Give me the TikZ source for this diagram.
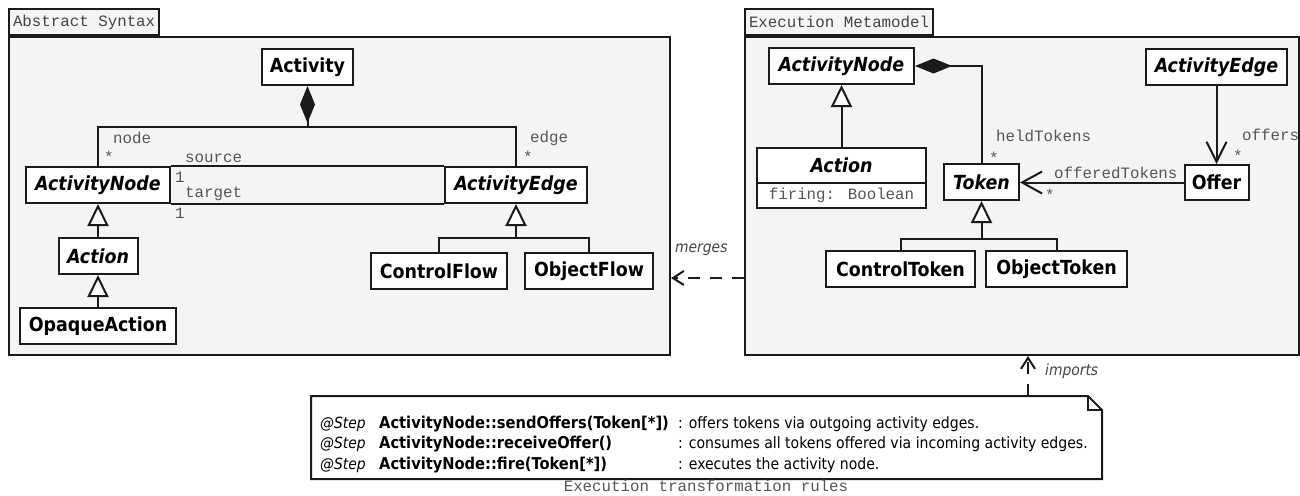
\documentclass[tikz,border=0pt]{standalone}
\usepackage{fontspec}
\usetikzlibrary{arrows.meta}
\newfontfamily\dvs{DejaVu Sans Condensed}
\newfontfamily\lmono{Liberation Mono}
\definecolor{pkgfill}{HTML}{F4F4F4}
\definecolor{lblgray}{HTML}{555555}
\definecolor{tabgray}{HTML}{444444}
\definecolor{linec}{HTML}{1A1A1A}
\begin{document}
\begin{tikzpicture}[x=1pt,y=-1pt,
  pkg/.style={draw=linec, line width=2pt, fill=pkgfill, inner sep=0pt, anchor=north west},
  tabbox/.style={draw=linec, line width=2pt, fill=pkgfill, inner xsep=4pt, inner ysep=0pt, minimum height=26pt, anchor=south west, font=\lmono\fontsize{15.8}{16}\selectfont, text=tabgray},
  cls/.style={draw=linec, line width=2pt, fill=white, inner sep=0pt, minimum height=36pt, font=\dvs\bfseries\fontsize{19.4}{20}\selectfont},
  acls/.style={cls, font=\dvs\bfseries\itshape\fontsize{19.4}{20}\selectfont},
  attrbox/.style={draw=linec, line width=2pt, fill=white, inner sep=0pt, minimum height=25pt, font=\lmono\fontsize{15.8}{16}\selectfont, text=lblgray},
  role/.style={anchor=base west, inner sep=0pt, font=\lmono\fontsize{15.8}{16}\selectfont, text=lblgray},
  conn/.style={draw=linec, line width=2pt},
  gen/.style={conn, -{Triangle[fill=white, length=22pt, width=21pt]}},
  comp/.style={conn, {Diamond[length=37pt, width=15pt]}-},
  nav/.style={conn, -{Straight Barb[length=20pt, width=20pt]}},
  dep/.style={conn, dash pattern=on 12pt off 10pt, -{Straight Barb[length=11pt, width=14pt]}},
  deplbl/.style={anchor=base west, inner sep=0pt, font=\dvs\itshape\fontsize{15.4}{16}\selectfont, text=tabgray},
  stepl/.style={anchor=base west, inner sep=0pt, font=\dvs\itshape\fontsize{15.4}{16}\selectfont},
  opl/.style={anchor=base west, inner sep=0pt, font=\dvs\bfseries\fontsize{16.3}{16}\selectfont},
  descl/.style={anchor=base west, inner sep=0pt, font=\dvs\fontsize{15.6}{16}\selectfont}
]
\useasboundingbox (0,0) rectangle (1300,495);

% packages
\node[pkg, minimum width=661pt, minimum height=318pt] (pkgL) at (8,36) {};
\node[tabbox] (tabL) at (8,36) {Abstract Syntax};
\node[pkg, minimum width=554pt, minimum height=318pt] (pkgR) at (744,36) {};
\node[tabbox] (tabR) at (744,36) {Execution Metamodel};

% left classes
\node[cls, minimum width=91pt] (act) at (307.5,67) {Activity};
\node[acls, minimum width=144pt] (an) at (98,185) {ActivityNode};
\node[acls, minimum width=142pt] (ae) at (516,185) {ActivityEdge};
\node[acls, minimum width=79pt] (actL) at (98,256) {Action};
\node[cls, minimum width=156pt] (opq) at (98,326) {OpaqueAction};
\node[cls, minimum width=136pt] (cf) at (439,271) {ControlFlow};
\node[cls, minimum width=128pt] (of) at (589,271) {ObjectFlow};

% right classes
\node[acls, minimum width=145pt] (anR) at (841.5,66) {ActivityNode};
\node[acls, minimum width=141pt] (aeR) at (1216.5,67) {ActivityEdge};
\node[acls, minimum width=169pt, minimum height=35pt] (actR) at (841.5,165.5) {Action};
\node[attrbox, minimum width=169pt] (actRa) at (841.5,195.5) {firing: Boolean};
\node[acls, minimum width=75pt] (tok) at (981.5,182) {Token};
\node[cls, minimum width=64pt, minimum height=35pt] (off) at (1216.5,182.5) {Offer};
\node[cls, minimum width=149pt] (ct) at (900.5,269) {ControlToken};
\node[cls, minimum width=141pt] (ot) at (1056.5,269) {ObjectToken};

% left connectors
\coordinate (j1) at (307.5,127);
\draw[conn] (an.north) |- (j1) -| (ae.north);
\draw[comp] (act.south) -- (j1);
\draw[conn] (an.north east) -- (ae.north west);
\draw[conn] (an.south east) -- (ae.south west);
\draw[gen] (actL.north) -- (an.south);
\draw[gen] (opq.north) -- (actL.south);
\coordinate (j2) at (516,238);
\draw[conn] (cf.north) -- (cf.north |- j2) -- (of.north |- j2) -- (of.north);
\draw[gen] (j2) -- (ae.south);

% left role labels
\node[role] (lnode) at (113,143) {node};
\node[role] (lnstar) at (104,162) {*};
\node[role] (lsrc) at (185,162) {source};
\node[role] (lsrc1) at (175,182) {1};
\node[role] (ltgt) at (185,197) {target};
\node[role] (ltgt1) at (175,218) {1};
\node[role] (ledge) at (530,142) {edge};
\node[role] (lestar) at (523,162) {*};

% right connectors
\draw[comp] (anR.east) -| (tok.north);
\draw[gen] (actR.north) -- (anR.south);
\draw[conn, -{Straight Barb[length=20pt, width=22pt]}] (off.west) -- (off.west -| tok.east);
\draw[nav] (aeR.south) -- (off.north);
\coordinate (j3) at (981.5,239);
\draw[conn] (ct.north) -- (ct.north |- j3) -- (ot.north |- j3) -- (ot.north);
\draw[gen] (j3) -- (tok.south);

% right role labels
\node[role] (rheld) at (996,141) {heldTokens};
\node[role] (rhstar) at (989,163) {*};
\node[role] (roffers) at (1242,140) {offers};
\node[role] (rostar) at (1233,161) {*};
\node[role] (roffT) at (1054,178) {offeredTokens};
\node[role] (rotstar) at (1045,200) {*};

% merges dependency
\coordinate (my) at (0,278);
\draw[dep] (pkgR.west |- my) -- (pkgL.east |- my);
\node[deplbl] (merges) at (675,252) {merges};

% note
\draw[line width=2pt, draw=linec, fill=white] (311,396) -- (1088,396) -- (1102,410) -- (1102,479) -- (311,479) -- cycle;
\draw[line width=1.2pt, draw=linec] (1088,396) -- (1088,410) -- (1102,410);
\coordinate (nt) at (1028,396);
\draw[dep] (nt) -- (nt |- pkgR.south);
\node[deplbl] (imports) at (1045,375) {imports};

\node[stepl] (s1) at (320,428) {@Step};
\node[opl] (o1) at (379,428) {ActivityNode::sendOffers(Token[*])};
\node[descl] (d1) at (678,428) {: offers tokens via outgoing activity edges.};
\node[stepl] (s2) at (320,448.5) {@Step};
\node[opl] (o2) at (379,448.5) {ActivityNode::receiveOffer()};
\node[descl] (d2) at (678,448.5) {: consumes all tokens offered via incoming activity edges.};
\node[stepl] (s3) at (320,469) {@Step};
\node[opl] (o3) at (379,469) {ActivityNode::fire(Token[*])};
\node[descl] (d3) at (678,469) {: executes the activity node.};

\node[anchor=base, inner sep=0pt, font=\lmono\fontsize{15.8}{16}\selectfont, text=lblgray] (cap) at (706,491) {Execution transformation rules};
\end{tikzpicture}
\end{document}
